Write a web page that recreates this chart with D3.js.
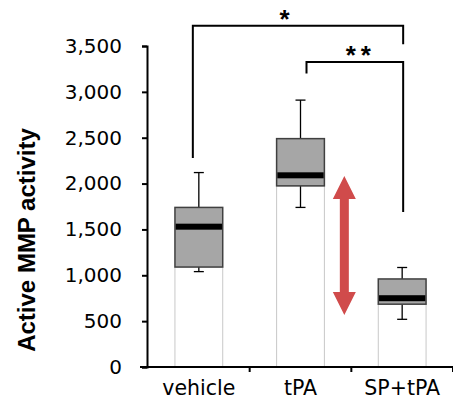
<!DOCTYPE html>
<html>
<head>
  <script src="https://cdn.jsdelivr.net/npm/d3@7"></script>
  <style>
    body { margin: 0; background: #fff; }
    text { font-family: "Liberation Sans", Arial, sans-serif; }
  </style>
</head>
<body>
  <script>
    // data
    var groups = ["vehicle", "tPA", "SP+tPA"];
    var mins    = [1040, 1740, 520];
    var q1s     = [1090, 1975, 685];
    var medians = [1530, 2090, 750];
    var q3s     = [1740, 2490, 960];
    var maxs    = [2120, 2910, 1085];
    var yTicks  = [0, 500, 1000, 1500, 2000, 2500, 3000, 3500];

    // significance brackets: [left group, right group, bar level, left foot, right foot, label]
    var brackets = [
      ["vehicle", "SP+tPA", 3720, 2280, 3520, "*"],
      ["tPA", "SP+tPA", 3325, 3200, 1690, "**"]
    ];
    // red double arrow, value range
    var arrowRange = [567, 2083];

    var width = 453, height = 403;
    var margin = {top: 46, right: 0, bottom: 36, left: 148};
    var tickFont = "'DejaVu Sans', Verdana, sans-serif";

    var svg = d3.select("body")
      .append("svg")
      .attr("width", width)
      .attr("height", height);

    var x = d3.scaleBand()
      .domain(groups)
      .range([margin.left, width - margin.right])
      .padding(0);

    var y = d3.scaleLinear()
      .domain([0, 3500])
      .range([height - margin.bottom, margin.top]);

    var boxW = x.bandwidth() * 0.47;

    var data = groups.map(function(g, i) {
      return {g: g, min: mins[i], q1: q1s[i], med: medians[i], q3: q3s[i], max: maxs[i]};
    });

    var cx = function(d) { return x(d.g) + x.bandwidth() / 2; };

    // white lower segment (stacked bar base)
    svg.append("g")
      .selectAll("rect")
      .data(data)
      .enter().append("rect")
      .attr("x", d => cx(d) - boxW / 2)
      .attr("y", d => y(d.q1))
      .attr("width", boxW)
      .attr("height", d => y(0) - y(d.q1))
      .attr("fill", "#fff")
      .attr("stroke", "#c8c8c8")
      .attr("stroke-width", 1);

    // whiskers
    var wh = svg.append("g").attr("stroke", "#000").attr("stroke-width", 1.3);
    wh.selectAll(".up")
      .data(data)
      .enter().append("line")
      .attr("x1", cx).attr("x2", cx)
      .attr("y1", d => y(d.q3)).attr("y2", d => y(d.max));
    wh.selectAll(".dn")
      .data(data)
      .enter().append("line")
      .attr("x1", cx).attr("x2", cx)
      .attr("y1", d => y(d.q1)).attr("y2", d => y(d.min));
    wh.selectAll(".capTop")
      .data(data)
      .enter().append("line")
      .attr("x1", d => cx(d) - 5).attr("x2", d => cx(d) + 5)
      .attr("y1", d => y(d.max)).attr("y2", d => y(d.max));
    wh.selectAll(".capBot")
      .data(data)
      .enter().append("line")
      .attr("x1", d => cx(d) - 5).attr("x2", d => cx(d) + 5)
      .attr("y1", d => y(d.min)).attr("y2", d => y(d.min));

    // boxes
    svg.append("g")
      .selectAll("rect")
      .data(data)
      .enter().append("rect")
      .attr("x", d => cx(d) - boxW / 2)
      .attr("y", d => y(d.q3))
      .attr("width", boxW)
      .attr("height", d => y(d.q1) - y(d.q3))
      .attr("fill", "#a6a6a6")
      .attr("stroke", "#404040")
      .attr("stroke-width", 1.5);

    // medians
    svg.append("g")
      .selectAll("rect")
      .data(data)
      .enter().append("rect")
      .attr("x", d => cx(d) - boxW / 2 + 0.75)
      .attr("y", d => y(d.med) - 3)
      .attr("width", boxW - 1.5)
      .attr("height", 6)
      .attr("fill", "#000");

    // y axis
    var yAxis = svg.append("g")
      .attr("transform", "translate(" + (margin.left - 1) + ",0)")
      .call(d3.axisLeft(y).tickValues(yTicks).tickSize(5).tickPadding(20)
        .tickFormat(d3.format(",")));
    yAxis.selectAll("line, path").attr("stroke", "#000").attr("stroke-width", 2);
    yAxis.selectAll("text").attr("font-size", 20).attr("fill", "#000")
      .style("font-family", tickFont);

    // x axis
    var xAxis = svg.append("g")
      .attr("transform", "translate(0," + y(0) + ")")
      .call(d3.axisBottom(x).tickSize(0).tickPadding(13));
    xAxis.select("path").attr("stroke", "#000").attr("stroke-width", 2)
      .attr("d", "M" + (margin.left - 8) + ",0H" + width);
    xAxis.selectAll("text").attr("font-size", 20.5).attr("fill", "#000")
      .attr("dy", "0.71em")
      .style("font-family", tickFont);
    // category boundary ticks
    svg.append("g")
      .selectAll("line")
      .data(groups)
      .enter().append("line")
      .attr("x1", d => x(d) + x.bandwidth()).attr("x2", d => x(d) + x.bandwidth())
      .attr("y1", y(0)).attr("y2", y(0) + 5)
      .attr("stroke", "#000").attr("stroke-width", 2);

    // y label
    svg.append("text")
      .attr("transform", "translate(35," + 240 + ") rotate(-90)")
      .attr("text-anchor", "middle")
      .attr("font-weight", "bold")
      .attr("font-size", 24)
      .attr("fill", "#000")
      .text("Active MMP activity");

    // significance brackets
    var bx = function(g, off) { return x(g) + x.bandwidth() / 2 + off; };
    var offs = [[-6, 1], [6, 1]];
    var labelDx = [-11, 6];
    svg.append("g")
      .selectAll("path")
      .data(brackets)
      .enter().append("path")
      .attr("fill", "none")
      .attr("stroke", "#000")
      .attr("stroke-width", 2)
      .attr("d", function(b, i) {
        var x1 = bx(b[0], offs[i][0]), x2 = bx(b[1], offs[i][1]);
        return "M" + x1 + "," + y(b[3]) + "V" + y(b[2]) + "H" + x2 + "V" + y(b[4]);
      });
    svg.append("g")
      .selectAll("text")
      .data(brackets)
      .enter().append("text")
      .attr("x", (b, i) => (bx(b[0], offs[i][0]) + bx(b[1], offs[i][1])) / 2 + labelDx[i])
      .attr("y", b => y(b[2]) + 2)
      .attr("text-anchor", "middle")
      .attr("font-weight", "bold")
      .attr("font-size", 26)
      .attr("letter-spacing", 5)
      .attr("fill", "#000")
      .text(b => b[5]);

    // red double-headed arrow
    var ax = x("SP+tPA") - 7;
    var yt = y(arrowRange[1]), yb = y(arrowRange[0]);
    var hw = 11.5, hl = 23, sw = 4.5;
    svg.append("path")
      .attr("fill", "#d04b4b")
      .attr("d", "M" + ax + "," + yt +
        "L" + (ax + hw) + "," + (yt + hl) +
        "L" + (ax + sw) + "," + (yt + hl) +
        "L" + (ax + sw) + "," + (yb - hl) +
        "L" + (ax + hw) + "," + (yb - hl) +
        "L" + ax + "," + yb +
        "L" + (ax - hw) + "," + (yb - hl) +
        "L" + (ax - sw) + "," + (yb - hl) +
        "L" + (ax - sw) + "," + (yt + hl) +
        "L" + (ax - hw) + "," + (yt + hl) + "Z");
  </script>
</body>
</html>
